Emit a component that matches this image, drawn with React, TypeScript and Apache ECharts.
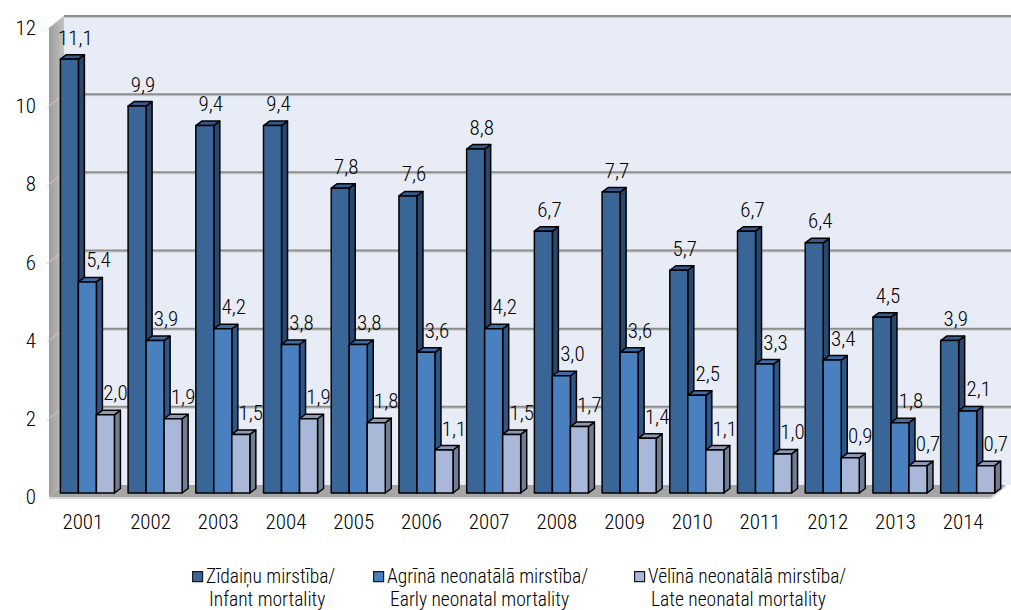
import React, { useEffect, useRef } from "react";
import * as echarts from "echarts";

const years = ["2001", "2002", "2003", "2004", "2005", "2006", "2007", "2008", "2009", "2010", "2011", "2012", "2013", "2014"];
const infant = [11.1, 9.9, 9.4, 9.4, 7.8, 7.6, 8.8, 6.7, 7.7, 5.7, 6.7, 6.4, 4.5, 3.9];
const early = [5.4, 3.9, 4.2, 3.8, 3.8, 3.6, 4.2, 3.0, 3.6, 2.5, 3.3, 3.4, 1.8, 2.1];
const late = [2.0, 1.9, 1.5, 1.9, 1.8, 1.1, 1.5, 1.7, 1.4, 1.1, 1.0, 0.9, 0.7, 0.7];
const yTicks = [0, 2, 4, 6, 8, 10, 12];
const seriesLine1 = ["Zīdaiņu mirstība/", "Agrīnā neonatālā mirstība/", "Vēlīnā neonatālā mirstība/"];
const seriesLine2 = ["Infant mortality", "Early neonatal mortality", "Late neonatal mortality"];

const FONT = "'Liberation Sans Narrow', 'Arial Narrow', 'Roboto Condensed', 'Liberation Sans', sans-serif";
const FS = 21;
const FW = 300;

const palettes = [
  { front: "#3a6597", top: "#34598a", side: "#29476f" },
  { front: "#4a7fc0", top: "#3e6ca6", side: "#2f5689" },
  { front: "#a9b8d9", top: "#8c99b6", side: "#727d92" },
];
const labelOffsets = [6, 11, 10];

const fmt = (v: number) => v.toFixed(1).replace(".", ",");

function makeBarRender(idx: number) {
  const pal = palettes[idx];
  return (params: any, api: any) => {
    const ci = api.value(0);
    const v = api.value(1);
    const base = api.coord([ci, 0]);
    const top = api.coord([ci, v]);
    const bw = api.size([1, 0])[0];
    const w = bw * 0.266;
    const x0 = base[0] - bw * 0.332 + idx * w;
    const yb = base[1] - 4;
    const yt = top[1] - 4;
    const dx = 6;
    const dy = -4.5;
    const stroke = { stroke: "#000", lineWidth: 1.5, lineJoin: "round" };
    return {
      type: "group",
      children: [
        {
          type: "polygon",
          shape: { points: [[x0 + w, yt], [x0 + w + dx, yt + dy], [x0 + w + dx, yb + dy], [x0 + w, yb]] },
          style: { fill: pal.side, ...stroke },
        },
        {
          type: "polygon",
          shape: { points: [[x0, yt], [x0 + w, yt], [x0 + w + dx, yt + dy], [x0 + dx, yt + dy]] },
          style: { fill: pal.top, ...stroke },
        },
        {
          type: "rect",
          shape: { x: x0, y: yt, width: w, height: yb - yt },
          style: { fill: pal.front, ...stroke },
        },
        {
          type: "text",
          z2: 10,
          style: {
            text: fmt(v),
            x: x0 + w / 2 + labelOffsets[idx],
            y: yt - 21.5,
            align: "center",
            verticalAlign: "middle",
            fontSize: FS,
            fontWeight: FW,
            fontFamily: FONT,
            fill: "#000",
          },
        },
      ],
    };
  };
}

function wallsRender(params: any, api: any) {
  const cs = params.coordSys;
  const L = cs.x;
  const R = cs.x + cs.width;
  const DX = 15;
  const DY = -12;
  const y0 = api.coord([0, 0])[1];
  const yMax = api.coord([0, yTicks[yTicks.length - 1]])[1];
  const children: any[] = [];
  children.push({
    type: "rect",
    shape: { x: L + DX, y: yMax + DY, width: R - L, height: y0 - yMax },
    style: { fill: "#e8ecf6" },
  });
  children.push({
    type: "polygon",
    shape: { points: [[L, y0], [L, yMax], [L + DX, yMax + DY], [L + DX, y0 + DY]] },
    style: {
      fill: new echarts.graphic.LinearGradient(0, 0, 1, 0, [
        { offset: 0, color: "#9c9c9c" },
        { offset: 1, color: "#c2c2c2" },
      ]),
    },
  });
  yTicks.forEach((t) => {
    if (t === 0) return;
    const y = api.coord([0, t])[1];
    children.push({
      type: "line",
      shape: { x1: L + DX, y1: y + DY + 1.5, x2: R + DX, y2: y + DY + 1.5 },
      style: { stroke: "#c9c9c9", lineWidth: 1 },
    });
    children.push({
      type: "line",
      shape: { x1: L + DX, y1: y + DY, x2: R + DX, y2: y + DY },
      style: { stroke: "#8e8e8e", lineWidth: 2 },
    });
    children.push({
      type: "line",
      shape: { x1: L - 2, y1: y + 1.5, x2: L + DX, y2: y + DY },
      style: { stroke: "#d0d0d0", lineWidth: 1 },
    });
  });
  children.push({
    type: "polygon",
    shape: { points: [[L, y0], [R - 6, y0], [R + DX - 6, y0 + DY], [L + DX, y0 + DY]] },
    style: { fill: "#a5a5a5" },
  });
  children.push({
    type: "polygon",
    shape: { points: [[L, y0], [R - 6, y0], [R - 6, y0 + 2], [L, y0 + 2]] },
    style: { fill: "#d6d6d6" },
  });
  children.push({
    type: "polygon",
    shape: { points: [[R - 6, y0], [R + DX - 6, y0 + DY], [R + DX - 6, y0 + DY + 2], [R - 6, y0 + 2]] },
    style: { fill: "#d6d6d6" },
  });
  return { type: "group", children };
}

const legendX = [192, 373, 634];

export default function App() {
  const ref = useRef<HTMLDivElement>(null);
  useEffect(() => {
    if (!ref.current) return;
    const chart = echarts.init(ref.current, undefined, { renderer: "svg" });
    const dataSets = [infant, early, late];
    const graphic: any[] = [];
    seriesLine1.forEach((l1, i) => {
      graphic.push({
        type: "rect",
        left: legendX[i],
        top: 571,
        shape: { width: 10, height: 10 },
        style: { fill: palettes[i].front, stroke: "#1a1a1a", lineWidth: 1.2 },
      });
      graphic.push({
        type: "text",
        x: legendX[i] + 14,
        y: 576,
        style: {
          text: l1,
          verticalAlign: "middle",
          fontSize: 19.5,
          lineHeight: 19,
          fontWeight: FW,
          fontFamily: FONT,
          fill: "#000",
        },
      });
      graphic.push({
        type: "text",
        x: legendX[i] + 17,
        y: 599,
        style: {
          text: seriesLine2[i],
          verticalAlign: "middle",
          fontSize: 19.5,
          lineHeight: 19,
          fontWeight: FW,
          fontFamily: FONT,
          fill: "#000",
        },
      });
    });
    chart.setOption({
      animation: false,
      backgroundColor: "#fff",
      grid: { left: 49, right: 14, top: 28, bottom: 113, containLabel: false },
      xAxis: {
        type: "category",
        data: years,
        axisLine: { show: false },
        axisTick: { show: false },
        axisLabel: { color: "#000", fontSize: FS, fontWeight: FW, fontFamily: FONT, margin: 14 },
      },
      yAxis: {
        type: "value",
        min: 0,
        max: 12,
        interval: 2,
        axisLine: { show: false },
        axisTick: { show: false },
        splitLine: { show: false },
        axisLabel: { color: "#000", fontSize: FS, fontWeight: FW, fontFamily: FONT, margin: 13 },
      },
      graphic,
      series: [
        {
          type: "custom",
          name: "walls",
          silent: true,
          z: 1,
          renderItem: wallsRender,
          data: [[0, 0]],
          encode: { x: 0, y: 1 },
        },
        ...dataSets.map((arr, i) => ({
          type: "custom",
          name: seriesLine1[i] + " " + seriesLine2[i],
          z: 2,
          renderItem: makeBarRender(i),
          data: arr.map((v, ci) => [ci, v]),
          encode: { x: 0, y: 1 },
        })),
      ],
    });
    return () => chart.dispose();
  }, []);
  return (
    <div
      ref={ref}
      style={{ position: "absolute", left: 0, top: 0, width: 1011, height: 610 }}
    />
  );
}
